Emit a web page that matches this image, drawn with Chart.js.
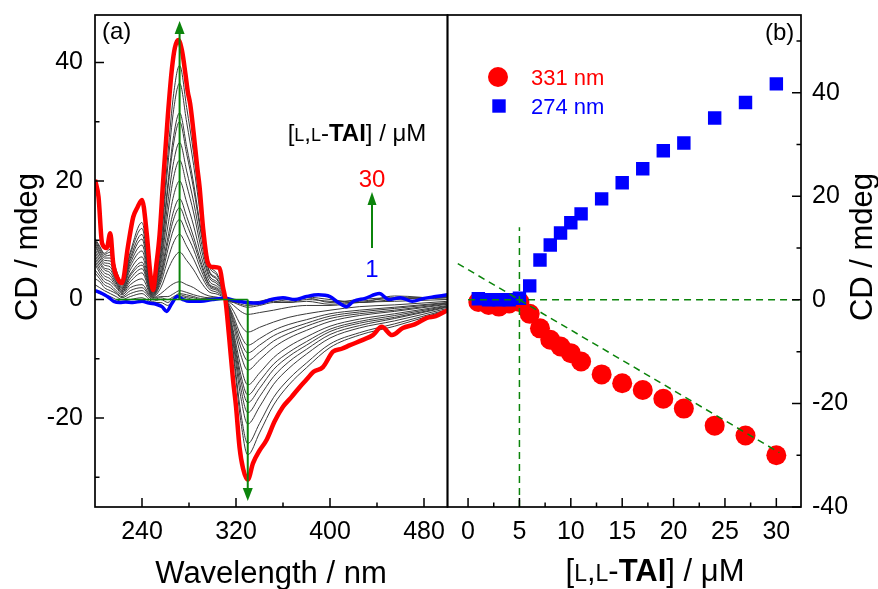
<!DOCTYPE html>
<html>
<head>
<meta charset="utf-8">
<script src="https://cdn.jsdelivr.net/npm/chart.js@4.4.0/dist/chart.umd.min.js"></script>
<style>
html, body { margin: 0; padding: 0; background: #fff; }
#wrap { position: relative; width: 878px; height: 589px; overflow: hidden; }
#cA { position: absolute; left: 0; top: 0; }
#cB { position: absolute; left: 446px; top: 0; }
</style>
</head>
<body>
<div id="wrap">
  <canvas id="cA" width="449" height="589"></canvas>
  <canvas id="cB" width="432" height="589"></canvas>
</div>
<script>
// ---- panel (a): CD spectra ----
// 30 uM (red) spectrum
var redWl = [200,203,206,210,213,215.5,220,223,228,232.5,236,240,244,247,249.5,252,255,258,262,265.5,268,271,274,277,279,281,284,287,289,292,296,300,306,309,311,314,317.5,320,323,326,330,334.5,340,346,353,360,367,374.5,380,386,394,402.5,410,417,428,436.5,444,452.8,462,472,482.5,490,500];
var redCD = [20.2,17.3,9.5,8.7,11.2,6.1,3.3,2.8,8.9,13.9,15.5,16.8,11.2,4.5,1.6,5.5,11,20,31,39,42.5,43.8,42,38,35,33,28,22.3,19,12,6.2,5.5,5.3,2,0,-6,-13.6,-18,-24.9,-28.5,-30.4,-27.6,-25.5,-23.7,-20.5,-18.1,-16.5,-14.7,-13.5,-12.2,-11.4,-8.8,-8.3,-7.7,-6.8,-6,-4.6,-6,-4.8,-4.2,-3.1,-2.8,-1.8];

// 1 uM (blue) spectrum
var blueWl = [200,204,208,212,216,221,226,232,240,246,252,257,261,265,270,275,280,290,300,310,320,330,340,350,360,370,380,390,400,407,414,420,430,442,450,460,470,480,490,500];
var blueCD = [1.5,1.2,0.8,0.3,-0.3,-0.5,-0.4,-0.5,-0.3,-0.6,-0.8,-1.2,-2,-0.8,0.5,0,-0.3,-0.3,0,0.2,-0.2,-0.5,-0.6,0,0.3,0,0.5,0.8,0.5,-0.5,-1.2,-0.3,0.2,1,0,0.3,-0.3,0.2,0.5,0.8];

// intermediate spectra (grey), same wavelengths
var greyWl = [200,204,208,213,218,223,230,240,249,256,262,267,272,278,284,290,297,304,311,318,324,330,340,352,365,380,400,425,455,500];
var cd2  = [1.5,1,0.8,0.5,0,-0.3,0,0.3,-0.5,-0.5,-1,0,0.5,0.3,0,0,0.2,0,0,-0.3,-0.2,-0.5,-0.3,0.2,0,0.4,0,-0.5,0.6,0];
var cd3  = [2.5,2,1.5,1,0.5,0,0.5,1,-0.3,0,-0.5,0.3,0.8,0.5,0.3,0,0,0.2,0,-0.5,-0.5,-0.8,-0.5,0,-0.3,0.3,-0.5,0,0.3,0.3];
var cd4  = [3.5,3,2,1.5,1,0.3,1,1.5,0,0.3,0,0.5,1,0.8,0.5,0.2,0.2,0,0,-0.3,-0.8,-1,-0.8,-0.3,-0.5,0,-0.3,-0.5,0,0.5];
var cd5  = [4.5,3.5,2.5,2,1.2,0.5,1.5,2,0.2,0.5,0.5,1,1.5,1.2,0.8,0.5,0.3,0.3,0,-0.5,-1,-1.3,-1,-0.5,-0.5,-0.3,-0.8,-0.3,0.2,0.3];
var cd6  = [5,4,3,2.5,1.5,0.8,2,2.5,0.3,1,2,2.7,3,2.5,2,1.2,0.6,0.4,0,-1,-2,-2.5,-2.2,-1.8,-1.3,-1,-1,-0.5,-0.3,0];
var cd7  = [6,4.5,3.5,3,2,1,2.5,3.5,0.4,2,5,7,8,6.6,5,3,1.3,0.9,0.1,-2,-4.3,-5.5,-4.7,-3.8,-3,-2.4,-1.8,-1.2,-0.9,-0.3];
var cd8  = [6.5,5,4,3.5,2.2,1.2,3,4.5,0.5,2.8,6.8,9.7,11,9,6.8,4.2,1.8,1.2,0.1,-2.9,-6,-7.7,-6.6,-5.2,-4.2,-3.4,-2.4,-1.8,-1.3,-0.5];
var cd9  = [7,5.5,4.5,4,2.5,1.3,3.5,5.2,0.6,3.4,8.4,11.9,13.5,11,8.4,5.1,2.2,1.5,0.1,-3.4,-7,-9,-7.7,-6.1,-5,-4,-2.8,-2.1,-1.5,-0.6];
var cd10 = [7.5,6,5,4.5,2.8,1.5,4,5.8,0.7,3.9,9.6,13.6,15.5,12.7,9.6,5.9,2.5,1.7,0.2,-3.9,-8,-10.3,-8.9,-7,-5.7,-4.5,-3.2,-2.4,-1.8,-0.7];
var cd11 = [8,6.5,5.3,5,3,1.6,4.3,6.3,0.8,4.3,10.5,15,17,14,10.5,6.5,2.7,1.9,0.2,-4.5,-9.3,-11.9,-10.2,-8.1,-6.5,-5.2,-3.7,-2.7,-2,-0.8];
var cd13 = [8.5,7,5.8,5.5,3.3,1.8,5,7.2,0.9,5,12.4,17.6,20,16.4,12.4,7.6,3.2,2.2,0.2,-5.5,-11.2,-14.4,-12.4,-9.8,-7.9,-6.3,-4.5,-3.3,-2.4,-1];
var cd15 = [9,7.5,6.2,6,3.6,2,5.6,8.2,1,5.9,14.6,20.7,23.5,19.3,14.6,8.9,3.8,2.6,0.2,-6.1,-12.6,-16.1,-13.8,-10.9,-8.9,-7.1,-5,-3.7,-2.7,-1.1];
var cd17 = [9.3,7.8,6.6,6.5,3.9,2.2,6.1,9.2,1.1,6.6,16.4,23.3,26.5,21.7,16.4,10.1,4.2,2.9,0.3,-6.6,-13.6,-17.4,-15,-11.8,-9.6,-7.7,-5.4,-4,-3,-1.2];
var cd19 = [9.6,8.2,7,7,4.2,2.4,6.6,10.2,1.2,7.5,18.6,26.4,30,24.6,18.6,11.4,4.8,3.3,0.3,-7.3,-14.9,-19.1,-16.4,-13,-10.5,-8.4,-5.9,-4.4,-3.2,-1.3];
var cd21 = [9.8,8.5,7.3,7.5,4.4,2.6,7,11,1.3,7.9,19.5,27.7,31.5,25.8,19.5,12,5,3.5,0.3,-8,-16.4,-21,-18.1,-14.3,-11.6,-9.2,-6.5,-4.8,-3.6,-1.5];
var cd24 = [10,8.8,7.6,8,4.7,2.8,7.6,12,1.4,9.1,22.6,32.1,36.5,29.9,22.6,13.9,5.8,4,0.4,-9.2,-19,-24.3,-20.9,-16.5,-13.4,-10.7,-7.5,-5.6,-4.1,-1.7];
var cd27 = [10.3,9,7.8,8.5,5,3,8,13,1.5,9.9,24.5,34.8,39.5,32.4,24.5,15,6.3,4.3,0.4,-10,-20.4,-26.2,-22.5,-17.8,-14.4,-11.5,-8.1,-6,-4.5,-1.8];

var ticksWl = [240, 320, 400, 480];
var minorWl = [280, 360, 440];
var ticksCDa = [-20, 0, 20, 40];
var minorCDa = [-30, -10, 10, 30];

// ---- panel (b): titration ----
var conc = [1,2,3,4,5,6,7,8,9,10,11,13,15,17,19,21,24,27,30];
var cd331 = [-0.4,-1,-1.3,-0.7,-0.4,-2.7,-5.5,-7.7,-9,-10.3,-11.9,-14.4,-16.1,-17.4,-19.1,-21,-24.3,-26.2,-30];
var cd274 = [0.2,0,0,0,0.3,2.7,7.7,10.6,12.9,14.9,16.6,19.5,22.6,25.3,28.8,30.3,35.1,38.1,41.7];
var fitX = [-1, 30.3];
var fitY = [7, -29.5];
var zeroX = [0, 32.4];
var zeroY = [0, 0];
var eqX = [5, 5];
var eqY = [-40, 14];

var ticksConc = [0, 5, 10, 15, 20, 25, 30];
var minorConc = [2.5, 7.5, 12.5, 17.5, 22.5, 27.5];
var ticksCDb = [-40, -20, 0, 20, 40];
var minorCDb = [-30, -10, 10, 30, 50];

var FONT = '"Liberation Sans", Arial, Helvetica, sans-serif';
var GREEN = '#0b840b';

function xy(xs, ys) {
    return xs.map(function(x, i) { return {x: x, y: ys[i]}; });
}

function setTicks(list) {
    return function(s) { s.ticks = list.map(function(v) { return {value: v}; }); };
}

// fixed axis size, no extra label padding
function fixSize(w, h) {
    return function(s) {
        if (w) s.width = w;
        if (h) s.height = h;
        s.paddingTop = s.paddingBottom = s.paddingLeft = s.paddingRight = 0;
    };
}

// inward tick marks
function tickMarks(ctx, scale, majors, minors, side, area) {
    ctx.beginPath();
    [[majors, 9], [minors, 4.5]].forEach(function(g) {
        g[0].forEach(function(v) {
            var p = scale.getPixelForValue(v);
            if (side === 'bottom') { ctx.moveTo(p, area.bottom); ctx.lineTo(p, area.bottom - g[1]); }
            if (side === 'left') { ctx.moveTo(area.left, p); ctx.lineTo(area.left + g[1], p); }
            if (side === 'right') { ctx.moveTo(area.right, p); ctx.lineTo(area.right - g[1], p); }
        });
    });
    ctx.stroke();
}

function drawRich(ctx, parts, x, y, align) {
    var w = 0;
    parts.forEach(function(p) {
        ctx.font = (p[2] || 'normal') + ' ' + p[1] + 'px ' + FONT;
        p.w = ctx.measureText(p[0]).width;
        w += p.w;
    });
    var cx = align === 'center' ? x - w / 2 : x;
    ctx.textAlign = 'left';
    ctx.textBaseline = 'alphabetic';
    parts.forEach(function(p) {
        ctx.font = (p[2] || 'normal') + ' ' + p[1] + 'px ' + FONT;
        ctx.fillText(p[0], cx, y);
        cx += p.w;
    });
}

function taiLabel(big, small) {
    return [['[', big], ['L', small], [',', big], ['L', small], ['-', big], ['TAI', big, 'bold'], [']', big], [' / ', big], ['\u03bcM', big]];
}

function arrow(ctx, x, y0, y1, head, hw) {
    var d = y1 > y0 ? 1 : -1;
    ctx.beginPath();
    ctx.moveTo(x, y0);
    ctx.lineTo(x, y1 - d * head);
    ctx.stroke();
    ctx.beginPath();
    ctx.moveTo(x, y1);
    ctx.lineTo(x - hw, y1 - d * head);
    ctx.lineTo(x + hw, y1 - d * head);
    ctx.closePath();
    ctx.fill();
}

function vTitle(ctx, text, x, y) {
    ctx.save();
    ctx.translate(x, y);
    ctx.rotate(-Math.PI / 2);
    ctx.font = '31px ' + FONT;
    ctx.textAlign = 'center';
    ctx.textBaseline = 'alphabetic';
    ctx.fillText(text, 0, 0);
    ctx.restore();
}

var decorA = {
    id: 'decorA',
    afterDraw: function(chart) {
        var ctx = chart.ctx, a = chart.chartArea, xs = chart.scales.x, ys = chart.scales.y;
        ctx.save();
        ctx.strokeStyle = GREEN;
        ctx.fillStyle = GREEN;
        ctx.lineWidth = 1.5;
        ctx.beginPath();
        ctx.moveTo(xs.getPixelForValue(218), ys.getPixelForValue(0));
        ctx.lineTo(xs.getPixelForValue(330), ys.getPixelForValue(0));
        ctx.stroke();
        ctx.lineWidth = 2;
        arrow(ctx, xs.getPixelForValue(272), ys.getPixelForValue(0), ys.getPixelForValue(47), 13, 5);
        arrow(ctx, xs.getPixelForValue(330), ys.getPixelForValue(0), ys.getPixelForValue(-34), 13, 5);
        arrow(ctx, 372, 248, 192, 13, 4.5);

        ctx.strokeStyle = '#000';
        ctx.lineWidth = 1.7;
        ctx.strokeRect(a.left, a.top, a.right - a.left, a.bottom - a.top);
        ctx.lineWidth = 1.5;
        tickMarks(ctx, xs, ticksWl, minorWl, 'bottom', a);
        tickMarks(ctx, ys, ticksCDa, minorCDa, 'left', a);

        ctx.fillStyle = '#000';
        ctx.font = '24px ' + FONT;
        ctx.textAlign = 'left';
        ctx.fillText('(a)', 102, 39);
        drawRich(ctx, taiLabel(24, 18), 357, 141, 'center');
        ctx.textAlign = 'center';
        ctx.font = '24px ' + FONT;
        ctx.fillStyle = '#ff0000';
        ctx.fillText('30', 372, 187);
        ctx.fillStyle = '#0000ff';
        ctx.fillText('1', 372, 277);

        ctx.fillStyle = '#000';
        ctx.font = '31px ' + FONT;
        ctx.fillText('Wavelength / nm', 271, 583);
        vTitle(ctx, 'CD / mdeg', 37, 247);
        ctx.restore();
    }
};

var decorB = {
    id: 'decorB',
    afterDraw: function(chart) {
        var ctx = chart.ctx, a = chart.chartArea, xs = chart.scales.x, ys = chart.scales.y;
        var off = 446;
        ctx.save();
        ctx.strokeStyle = '#000';
        ctx.lineWidth = 1.7;
        ctx.strokeRect(a.left, a.top, a.right - a.left, a.bottom - a.top);
        ctx.lineWidth = 1.5;
        tickMarks(ctx, xs, ticksConc, minorConc, 'bottom', a);
        tickMarks(ctx, ys, ticksCDb, minorCDb, 'right', a);

        // legend
        ctx.fillStyle = '#ff0000';
        ctx.beginPath();
        ctx.arc(498 - off, 77, 10, 0, Math.PI * 2);
        ctx.fill();
        ctx.fillStyle = '#0000ff';
        ctx.fillRect(499 - off - 6.7, 106 - 6.7, 13.4, 13.4);
        ctx.font = '22px ' + FONT;
        ctx.textAlign = 'left';
        ctx.fillStyle = '#ff0000';
        ctx.fillText('331 nm', 531 - off, 85);
        ctx.fillStyle = '#0000ff';
        ctx.fillText('274 nm', 531 - off, 114);

        ctx.fillStyle = '#000';
        ctx.font = '24px ' + FONT;
        ctx.fillText('(b)', 765 - off, 40);
        drawRich(ctx, taiLabel(31, 23), 655 - off, 581, 'center');
        vTitle(ctx, 'CD / mdeg', 872 - off, 247);
        ctx.restore();
    }
};

var tickFont = {family: FONT, size: 25};

var greyList = [cd2, cd3, cd4, cd5, cd6, cd7, cd8, cd9, cd10, cd11, cd13, cd15, cd17, cd19, cd21, cd24, cd27];
var dsA = [
    {data: xy(redWl, redCD), borderColor: '#ff0000', borderWidth: 4.5},
    {data: xy(blueWl, blueCD), borderColor: '#0000ff', borderWidth: 3.5}
];
greyList.forEach(function(g) {
    dsA.push({data: xy(greyWl, g), borderColor: '#3a3a3a', borderWidth: 1});
});
dsA.forEach(function(d) {
    d.pointRadius = 0;
    d.cubicInterpolationMode = 'monotone';
    d.fill = false;
});

new Chart(document.getElementById('cA'), {
    type: 'line',
    data: {datasets: dsA},
    options: {
        responsive: false,
        animation: false,
        devicePixelRatio: 1,
        layout: {autoPadding: false, padding: {left: 0, top: 15, right: 1.5, bottom: 0}},
        plugins: {legend: {display: false}, tooltip: {enabled: false}},
        scales: {
            x: {
                type: 'linear', min: 200, max: 500,
                grid: {display: false, drawTicks: false},
                border: {display: false},
                ticks: {font: tickFont, color: '#000', padding: 10, maxRotation: 0, autoSkip: false},
                afterBuildTicks: setTicks(ticksWl),
                afterFit: fixSize(0, 82)
            },
            y: {
                type: 'linear', min: -35, max: 48,
                grid: {display: false, drawTicks: false},
                border: {display: false},
                ticks: {font: tickFont, color: '#000', padding: 12, autoSkip: false},
                afterBuildTicks: setTicks(ticksCDa),
                afterFit: fixSize(95, 0)
            }
        }
    },
    plugins: [decorA]
});

var dashLine = {showLine: true, pointRadius: 0, borderColor: GREEN, borderWidth: 1.5, borderDash: [7, 5], order: 0};

new Chart(document.getElementById('cB'), {
    type: 'scatter',
    data: {
        datasets: [
            {label: '331 nm', data: xy(conc, cd331), pointStyle: 'circle', pointRadius: 10,
             backgroundColor: '#ff0000', borderWidth: 0, order: 2},
            {label: '274 nm', data: xy(conc, cd274), pointStyle: 'rect', pointRadius: 9.5,
             backgroundColor: '#0000ff', borderWidth: 0, order: 1},
            Object.assign({data: xy(fitX, fitY)}, dashLine),
            Object.assign({data: xy(zeroX, zeroY)}, dashLine),
            Object.assign({data: xy(eqX, eqY)}, dashLine)
        ]
    },
    options: {
        responsive: false,
        animation: false,
        devicePixelRatio: 1,
        layout: {autoPadding: false, padding: {left: 1.5, top: 15, right: 0, bottom: 0}},
        plugins: {legend: {display: false}, tooltip: {enabled: false}},
        scales: {
            x: {
                type: 'linear', min: -2, max: 32.4,
                grid: {display: false, drawTicks: false},
                border: {display: false},
                ticks: {font: tickFont, color: '#000', padding: 10, maxRotation: 0, autoSkip: false},
                afterBuildTicks: setTicks(ticksConc),
                afterFit: fixSize(0, 82)
            },
            y: {
                type: 'linear', position: 'right', min: -40, max: 55,
                grid: {display: false, drawTicks: false},
                border: {display: false},
                ticks: {font: tickFont, color: '#000', padding: 11, autoSkip: false},
                afterBuildTicks: setTicks(ticksCDb),
                afterFit: fixSize(77, 0)
            }
        }
    },
    plugins: [decorB]
});
</script>
</body>
</html>
